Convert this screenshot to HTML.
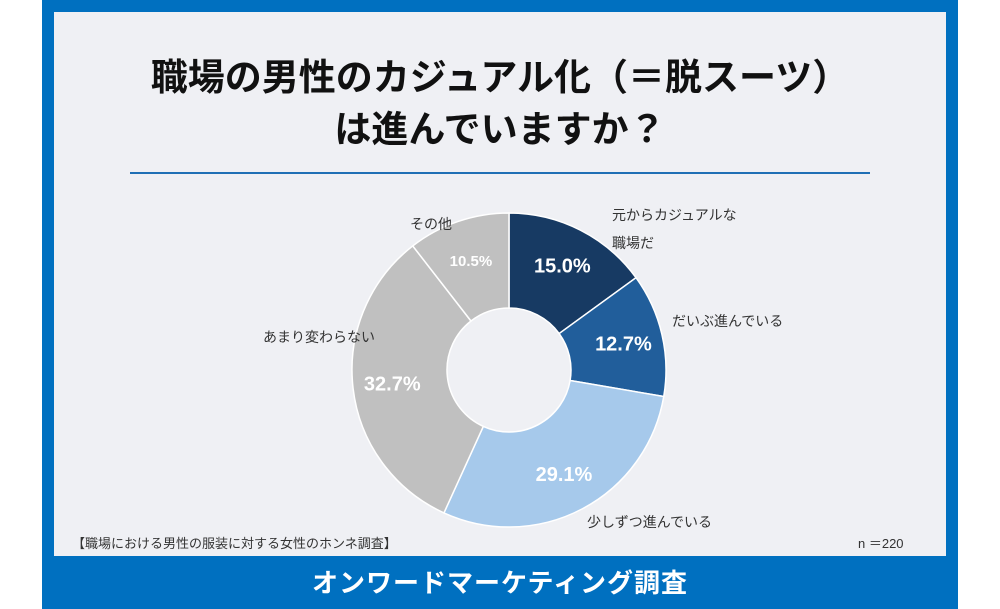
<!DOCTYPE html>
<html><head><meta charset="utf-8"><style>
body{margin:0;width:1000px;height:609px;background:#fff;position:relative;overflow:hidden;font-family:"Liberation Sans","Noto Sans CJK JP",sans-serif}
.frame{position:absolute;left:42px;top:0;width:916px;height:609px;background:#0070c0}
.panel{position:absolute;left:54px;top:12px;width:892px;height:544px;background:#eff0f4}
.t{position:absolute;white-space:nowrap}
</style></head><body>
<div class="frame"></div>
<div class="panel"></div>
<div class="t" style="left:0;width:1000px;top:52px;text-align:center;font-size:37px;font-weight:bold;line-height:52px;color:#111">職場の男性のカジュアル化（＝脱スーツ）<br>は進んでいますか？</div>
<div style="position:absolute;left:130px;top:172px;width:740px;height:2px;background:#1f6fb5"></div>
<svg id="pie" width="1000" height="609" style="position:absolute;left:0;top:0"></svg>
<div class="t" style="left:72px;top:533px;font-size:13px;color:#333">【職場における男性の服装に対する女性のホンネ調査】</div>
<div class="t" style="left:858px;top:533px;font-size:13px;color:#333">n ＝220</div>
<div class="t" style="left:0;width:1000px;top:563px;text-align:center;font-size:26px;font-weight:bold;color:#fff;letter-spacing:1px">オンワードマーケティング調査</div>
<script>
const categories=["元からカジュアルな職場だ","だいぶ進んでいる","少しずつ進んでいる","あまり変わらない","その他"];
const values=[15.0,12.7,29.1,32.7,10.5];
const valueLabels=["15.0%","12.7%","29.1%","32.7%","10.5%"];
const colors=["#173a63","#215e9b","#a6c9eb","#c0c0c0","#c0c0c0"];
const ns="http://www.w3.org/2000/svg",svg=document.getElementById('pie');
const cx=509,cy=370,R=157,r=62;
const total=values.reduce((a,b)=>a+b,0);
function pt(a,rad){return [cx+rad*Math.sin(a),cy-rad*Math.cos(a)];}
let a0=0;
values.forEach((v,i)=>{
 const a1=a0+v/total*2*Math.PI,lg=(a1-a0)>Math.PI?1:0;
 const [x1,y1]=pt(a0,R),[x2,y2]=pt(a1,R),[x3,y3]=pt(a1,r),[x4,y4]=pt(a0,r);
 const p=document.createElementNS(ns,'path');
 p.setAttribute('d',`M${x1},${y1}A${R},${R} 0 ${lg} 1 ${x2},${y2}L${x3},${y3}A${r},${r} 0 ${lg} 0 ${x4},${y4}Z`);
 p.setAttribute('fill',colors[i]);p.setAttribute('stroke','#fff');p.setAttribute('stroke-width','1.5');
 
 
 svg.appendChild(p);
 const mid=(a0+a1)/2,[lx,ly]=pt(mid,(R+r)/2+8);
 const t=document.createElementNS(ns,'text');
 t.setAttribute('x',lx);t.setAttribute('y',ly+7);t.setAttribute('text-anchor','middle');
 t.setAttribute('font-size',i==4?'15':'20');t.setAttribute('font-weight','bold');
 t.setAttribute('fill',i==2?'#fff':'#fff');
 t.setAttribute('font-family','Liberation Sans, sans-serif');
 t.textContent=valueLabels[i];
 
 
 svg.appendChild(t);
 a0=a1;
});
const catPos=[[612,220],[672,326],[587,527],[263,342],[410,229]];
categories.forEach((c,i)=>{
 const lines=i==0?["元からカジュアルな","職場だ"]:[c];
 lines.forEach((l,j)=>{
  const t=document.createElementNS(ns,'text');
  t.setAttribute('x',catPos[i][0]);t.setAttribute('y',catPos[i][1]+j*28);
  t.setAttribute('font-size','14');t.setAttribute('fill','#333');
  t.setAttribute('font-family','Liberation Sans, Noto Sans CJK JP, sans-serif');
  t.textContent=l;
  
  
  svg.appendChild(t);
 });
});
</script>
</body></html>
